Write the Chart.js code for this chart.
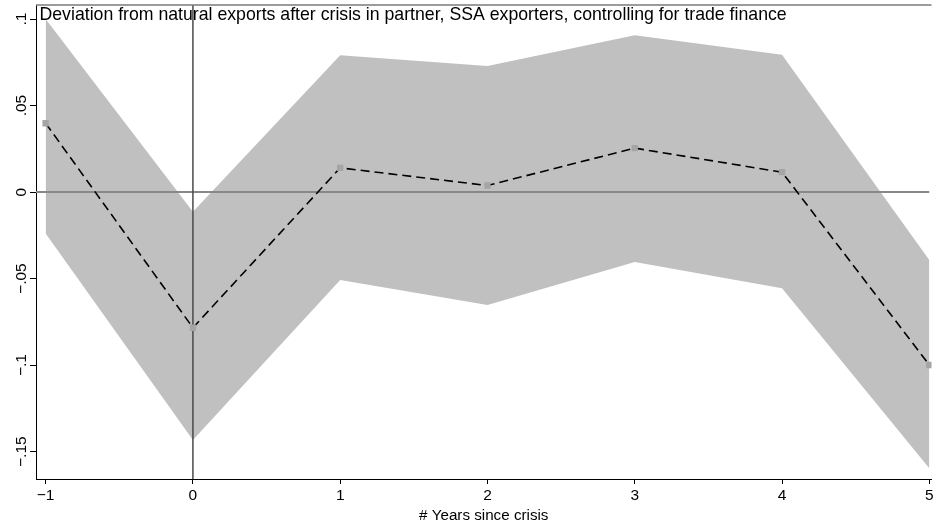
<!DOCTYPE html>
<html>
<head>
<meta charset="utf-8">
<script src="https://cdn.jsdelivr.net/npm/chart.js@4.4.1/dist/chart.umd.min.js"></script>
<style>
  html, body { margin: 0; padding: 0; background: #fff; }
  canvas { display: block; }
</style>
</head>
<body>
<canvas id="myChart" width="936" height="525"></canvas>
<script>
// event-study estimates, SSA exporters
var years = [-1, 0, 1, 2, 3, 4, 5]
var coef = [0.0398, -0.0784, 0.0140, 0.0038, 0.0254, 0.0115, -0.0999]
var upper = [0.1000, -0.0114, 0.0791, 0.0729, 0.0906, 0.0794, -0.0392]
var lower = [-0.0239, -0.1432, -0.0508, -0.0652, -0.0404, -0.0556, -0.1596]

var xTicks = [-1, 0, 1, 2, 3, 4, 5]
var xTickLabels = ['\u22121', '0', '1', '2', '3', '4', '5']
var yTicks = [-0.15, -0.1, -0.05, 0, 0.05, 0.1]
var yTickLabels = ['\u2212.15', '\u2212.1', '\u2212.05', '0', '.05', '.1']

var chartTitle = 'Deviation from natural exports after crisis in partner, SSA exporters, controlling for trade finance'
var xTitle = '# Years since crisis'

var fontFamily = '"Liberation Sans", Arial, sans-serif'

function toPoints(ys) {
    return years.map(function (x, i) { return {x: x, y: ys[i]} })
}

// draws the frame top, the reference lines and the title inside the plot
var framePlugin = {
    id: 'frame',
    afterDatasetDraw: function (chart, args) {
        if (args.index !== 1) return
        var ctx = chart.ctx
        var a = chart.chartArea
        var xs = chart.scales.x
        var ys = chart.scales.y
        ctx.save()
        // y = 0
        ctx.strokeStyle = '#888888'
        ctx.lineWidth = 2
        ctx.beginPath()
        ctx.moveTo(a.left, ys.getPixelForValue(0))
        ctx.lineTo(xs.getPixelForValue(5), ys.getPixelForValue(0))
        ctx.stroke()
        // crisis year
        ctx.strokeStyle = '#4a4a4a'
        ctx.lineWidth = 1.5
        ctx.beginPath()
        ctx.moveTo(xs.getPixelForValue(0), a.top)
        ctx.lineTo(xs.getPixelForValue(0), a.bottom)
        ctx.stroke()
        ctx.restore()
    },
    afterDraw: function (chart) {
        var ctx = chart.ctx
        var a = chart.chartArea
        ctx.save()
        ctx.strokeStyle = '#7a7a7a'
        ctx.lineWidth = 1.5
        ctx.beginPath()
        ctx.moveTo(a.left, a.top)
        ctx.lineTo(a.right, a.top)
        ctx.stroke()
        ctx.fillStyle = '#000'
        ctx.font = '17.7px ' + fontFamily
        ctx.textBaseline = 'alphabetic'
        ctx.textAlign = 'left'
        ctx.fillText(chartTitle, a.left + 3.5, a.top + 15)
        ctx.restore()
    }
}

var ctx = document.getElementById('myChart').getContext('2d')

var myChart = new Chart(ctx, {
    type: 'line',
    data: {
        datasets: [{
            label: 'Estimate',
            data: toPoints(coef),
            borderColor: '#000',
            borderWidth: 1.6,
            borderDash: [9, 5],
            pointStyle: 'rect',
            pointRadius: 4.5,
            pointBackgroundColor: '#a5a5a5',
            pointBorderWidth: 0,
            fill: false,
            tension: 0
        }, {
            label: 'Upper',
            data: toPoints(upper),
            borderWidth: 0,
            pointRadius: 0,
            backgroundColor: '#c0c0c0',
            fill: 2,
            tension: 0
        }, {
            label: 'Lower',
            data: toPoints(lower),
            borderWidth: 0,
            pointRadius: 0,
            fill: false,
            tension: 0
        }]
    },
    options: {
        responsive: false,
        animation: false,
        devicePixelRatio: 1,
        layout: {
            padding: {top: 5, right: 0, bottom: 0, left: 0}
        },
        plugins: {
            legend: {display: false},
            tooltip: {enabled: false},
            title: {display: false}
        },
        scales: {
            x: {
                type: 'linear',
                min: -1.0655,
                max: 5.015,
                afterBuildTicks: function (scale) {
                    scale.ticks = xTicks.map(function (v) { return {value: v} })
                },
                afterFit: function (scale) {
                    scale.height = 46
                    scale.paddingLeft = 0
                    scale.paddingRight = 0
                },
                ticks: {
                    autoSkip: false,
                    maxRotation: 0,
                    padding: 2,
                    color: '#000',
                    font: {family: fontFamily, size: 15.5},
                    callback: function (value) {
                        return xTickLabels[xTicks.indexOf(value)]
                    }
                },
                grid: {
                    drawOnChartArea: false,
                    drawTicks: true,
                    tickLength: 5,
                    color: '#000'
                },
                border: {display: true, color: '#000', width: 1},
                title: {
                    display: true,
                    text: xTitle,
                    color: '#000',
                    font: {family: fontFamily, size: 15.2},
                    padding: {top: -4, bottom: 0}
                }
            },
            y: {
                type: 'linear',
                min: -0.1658,
                max: 0.1081,
                afterBuildTicks: function (scale) {
                    scale.ticks = yTicks.map(function (v) { return {value: v} })
                },
                afterFit: function (scale) {
                    scale.width = 36
                },
                ticks: {
                    autoSkip: false,
                    minRotation: 90,
                    maxRotation: 90,
                    crossAlign: 'center',
                    padding: -7,
                    color: '#000',
                    font: {family: fontFamily, size: 15.5},
                    callback: function (value) {
                        return yTickLabels[yTicks.indexOf(value)]
                    }
                },
                grid: {
                    drawOnChartArea: false,
                    drawTicks: true,
                    tickLength: 6,
                    color: '#000'
                },
                border: {display: true, color: '#000', width: 1}
            }
        }
    },
    plugins: [framePlugin]
})
</script>
</body>
</html>
